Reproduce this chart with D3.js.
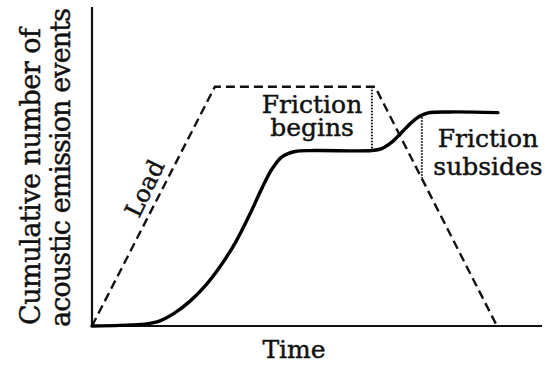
<!DOCTYPE html>
<html>
<head>
<meta charset="utf-8">
<script src="https://cdn.jsdelivr.net/npm/d3@7"></script>
<style>
  body { margin: 0; background: #fff; }
  text { font-family: "DejaVu Serif", serif; fill: #111; stroke: #111; stroke-width: 0.45px; }
</style>
</head>
<body>
<svg id="chart" width="545" height="368"></svg>
<script>
// load curve (dashed trapezoid), arbitrary units
const loadTime = [0, 27.3, 62.9, 90];
const loadVal  = [0, 75, 75, 0];

// cumulative acoustic emission events (solid curve)
const aeTime = [0, 6.2, 11.8, 15.1, 18.4, 21.8, 25.1, 28.4, 31.8, 35.1, 37.8, 40, 42.2, 45.1, 49.6,
                62.2, 64.4, 66.7, 68.9, 71.1, 72.9, 74.7, 79.6, 90.2];
const aeVal  = [0, 0.2, 0.6, 1.6, 4.1, 7.8, 12.5, 18.5, 26, 35.1, 43.3, 49.2, 53, 54.7, 55,
                55, 55.6, 57.7, 60.8, 63.9, 65.8, 66.8, 67.1, 66.9];

// dotted markers: [time, top, bottom]
const markerNames = ["Friction begins", "Friction subsides"];
const markerTime  = [62.2, 73.3];
const markerTop   = [75, 66.4];
const markerBot   = [55, 46.4];

const svg = d3.select("#chart");

const x = d3.scaleLinear().domain([0, 100]).range([92, 542]);
const y = d3.scaleLinear().domain([0, 100]).range([326, 7]);

// axes (plain lines, no ticks)
svg.append("line")
    .attr("x1", x(0)).attr("x2", x(0))
    .attr("y1", y(0) + 1).attr("y2", y(100))
    .attr("stroke", "#111").attr("stroke-width", 2.2);
svg.append("line")
    .attr("x1", x(0) - 1).attr("x2", x(100))
    .attr("y1", y(0)).attr("y2", y(0))
    .attr("stroke", "#111").attr("stroke-width", 2.2);

// load
const loadData = loadTime.map((t, i) => [t, loadVal[i]]);
svg.append("path")
    .datum(loadData)
    .attr("fill", "none")
    .attr("stroke", "#111")
    .attr("stroke-width", 2.4)
    .attr("stroke-dasharray", "9,5")
    .attr("d", d3.line().x(d => x(d[0])).y(d => y(d[1])));

// acoustic emission
const aeData = aeTime.map((t, i) => [t, aeVal[i]]);
svg.append("path")
    .datum(aeData)
    .attr("fill", "none")
    .attr("stroke", "#000")
    .attr("stroke-width", 3.4)
    .attr("stroke-linecap", "round")
    .attr("d", d3.line().curve(d3.curveCatmullRom.alpha(0.5)).x(d => x(d[0])).y(d => y(d[1])));

// dotted verticals
svg.append("g").selectAll("line")
    .data(markerTime)
    .enter().append("line")
    .attr("x1", d => x(d)).attr("x2", d => x(d))
    .attr("y1", (d, i) => y(markerTop[i]))
    .attr("y2", (d, i) => y(markerBot[i]))
    .attr("stroke", "#111")
    .attr("stroke-width", 2)
    .attr("stroke-dasharray", "1.5,1.5");

// labels: one text element, lines as tspans
function lines(xp, yp, arr, size, gap) {
  const t = svg.append("text")
      .attr("text-anchor", "middle")
      .style("font-size", size + "px");
  arr.forEach((s, i) => {
    t.append("tspan")
      .attr("x", xp).attr("y", yp + i * gap)
      .text(s);
  });
}
lines(312, 113, ["Friction", "begins"], 25, 22.5);
lines(488, 147, ["Friction", "subsides"], 25, 28);
lines(294, 358, ["Time"], 25, 0);

svg.append("text")
    .attr("transform", "translate(139,219) rotate(-64)")
    .style("font-size", "24px")
    .text("Load");

svg.append("text")
    .attr("transform", "translate(40,325) rotate(-90)")
    .attr("textLength", 297)
    .style("font-size", "27px")
    .text("Cumulative number of");
svg.append("text")
    .attr("transform", "translate(70,327) rotate(-90)")
    .attr("textLength", 319)
    .style("font-size", "27px")
    .text("acoustic emission events");
</script>
</body>
</html>
